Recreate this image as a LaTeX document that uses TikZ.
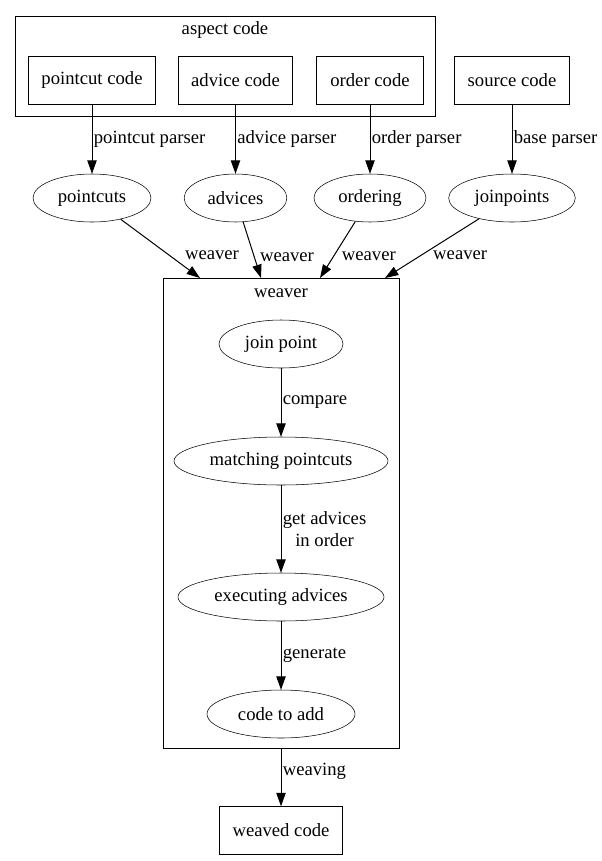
\documentclass[tikz,border=0pt]{standalone}
\usepackage{fontspec}
\setmainfont{Liberation Serif}
\usetikzlibrary{shapes, arrows.meta}
\usetikzlibrary{positioning}

\begin{document}
\begin{tikzpicture}[x=0.75pt,y=-0.75pt,font=\fontsize{14}{16}\selectfont,
		box/.style={draw,rectangle,minimum height=36pt,inner sep=0pt},
		oval/.style={draw,ellipse,minimum height=36pt,inner sep=0pt},
		cluster/.style={draw,rectangle,inner sep=0pt},
		edge/.style={-{Triangle[length=10pt,width=7pt]},line width=0.75pt},
		lbl/.style={inner sep=1pt}]

		    \useasboundingbox (0,0) rectangle (601,861);

		    % aspect code cluster
		    \node(aspect) [cluster,minimum width=315pt,minimum height=75pt] at (225,66) {};
		    \node(aspectlbl) at (225,30) {aspect code};
		    \node(pcode) [box,minimum width=95pt] at (92,80.5) {pointcut code};
		    \node(acode) [box,minimum width=85.5pt] at (235.5,80.5) {advice code};
		    \node(ocode) [box,minimum width=80pt] at (370,80.5) {order code};
		    \node(scode) [box,minimum width=86pt] at (512,80.5) {source code};

		    \node(pcuts) [oval,minimum width=88.5pt] at (92,198) {pointcuts};
		    \node(advs) [oval,minimum width=77pt] at (235.5,198) {advices};
		    \node(ord) [oval,minimum width=84pt] at (370,198) {ordering};
		    \node(jpts) [oval,minimum width=95pt] at (512,198) {joinpoints};

		    \draw[edge] (pcode) -- (pcuts) node[lbl,midway,right]{pointcut parser};
		    \draw[edge] (acode) -- (advs) node[lbl,midway,right]{advice parser};
		    \draw[edge] (ocode) -- (ord) node[lbl,midway,right]{order parser};
		    \draw[edge] (scode) -- (jpts) node[lbl,midway,right]{base parser};

		    % weaver cluster
		    \node(weaver) [cluster,minimum width=177pt,minimum height=352.5pt] at (281,513) {};
		    \node(weaverlbl) at (281,293) {weaver};
		    \coordinate (in1) at (200,278);
		    \coordinate (in2) at (261,278);
		    \coordinate (in3) at (320,278);
		    \coordinate (in4) at (385,278);

		    \draw[edge] (pcuts) -- (in1) node[lbl,pos=0.62,anchor=west,xshift=10pt]{weaver};
		    \draw[edge] (advs) -- (in2) node[lbl,pos=0.62,anchor=west,xshift=3pt]{weaver};
		    \draw[edge] (ord) -- (in3) node[lbl,pos=0.62,anchor=west,xshift=5pt]{weaver};
		    \draw[edge] (jpts) -- (in4) node[lbl,pos=0.62,anchor=west,xshift=8pt]{weaver};

		    \node(jp) [oval,minimum width=93pt] at (281,344) {join point};
		    \node(mpc) [oval,minimum width=160.5pt] at (281,461) {matching pointcuts};
		    \node(exec) [oval,minimum width=154.5pt] at (281,597) {executing advices};
		    \node(add) [oval,minimum width=111pt] at (281,714) {code to add};

		    \draw[edge] (jp) -- (mpc) node[lbl,midway,right]{compare};
		    \draw[edge] (mpc) -- (exec) node[lbl,midway,right,align=center]{get advices\\in order};
		    \draw[edge] (exec) -- (add) node[lbl,midway,right]{generate};

		    \node(wcode) [box,minimum width=92pt] at (281,830.5) {weaved code};
		    \draw[edge] (weaver) -- (wcode) node[lbl,pos=0.4,right]{weaving};

\end{tikzpicture}
\end{document}
